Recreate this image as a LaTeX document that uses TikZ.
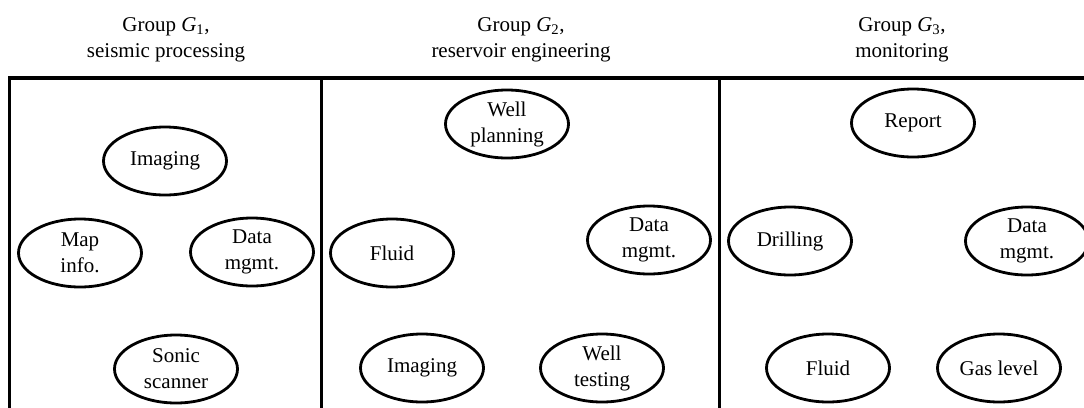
\documentclass[tikz,border=0pt]{standalone}
\usepackage{fontspec}
\setmainfont{Liberation Serif}
\usetikzlibrary{shapes.geometric}
\begin{document}
\begin{tikzpicture}[x=1pt,y=-1pt,
  task/.style={draw, ellipse, line width=2.8pt, inner sep=0pt,
    minimum width=123pt, minimum height=68pt, align=center,
    font=\fontsize{21}{26}\selectfont},
  heading/.style={align=center, inner sep=0pt, font=\fontsize{21}{26}\selectfont},
  frame/.style={line width=3.4pt}]
\useasboundingbox (0,0) rectangle (1084,407);
% headings
\node[heading] (h1) at (166,39.5) {Group \textit{G}\textsubscript{1},\\seismic processing};
\node[heading] (h2) at (521,39.5) {Group \textit{G}\textsubscript{2},\\reservoir engineering};
\node[heading] (h3) at (902,39.5) {Group \textit{G}\textsubscript{3},\\monitoring};
% frame
\coordinate (tl) at (9.5,78);
\coordinate (tr) at (1090,78);
\coordinate (bl) at (9.5,412);
\coordinate (d1t) at (321.5,78);
\coordinate (d1b) at (321.5,412);
\coordinate (d2t) at (719,78);
\coordinate (d2b) at (719,412);
\draw[frame] (bl) -- (tl) -- (tr);
\draw[frame, line width=3pt] (d1t) -- (d1b);
\draw[frame, line width=3pt] (d2t) -- (d2b);
% group 1
\node[task] (g1img) at (165,161) {Imaging};
\node[task] (g1map) at (80,253) {Map\\info.};
\node[task] (g1dat) at (252,252) {Data\\mgmt.};
\node[task] (g1son) at (176,369) {Sonic\\scanner};
% group 2
\node[task] (g2wp) at (507,124) {Well\\planning};
\node[task] (g2flu) at (392,253) {Fluid};
\node[task] (g2dat) at (649,240) {Data\\mgmt.};
\node[task] (g2img) at (422,368) {Imaging};
\node[task] (g2wt) at (602,368) {Well\\testing};
% group 3
\node[task] (g3rep) at (913,123) {Report};
\node[task] (g3dri) at (790,241) {Drilling};
\node[task] (g3dat) at (1027,241) {Data\\mgmt.};
\node[task] (g3flu) at (828,368) {Fluid};
\node[task] (g3gas) at (999,368) {Gas level};
\end{tikzpicture}
\end{document}
